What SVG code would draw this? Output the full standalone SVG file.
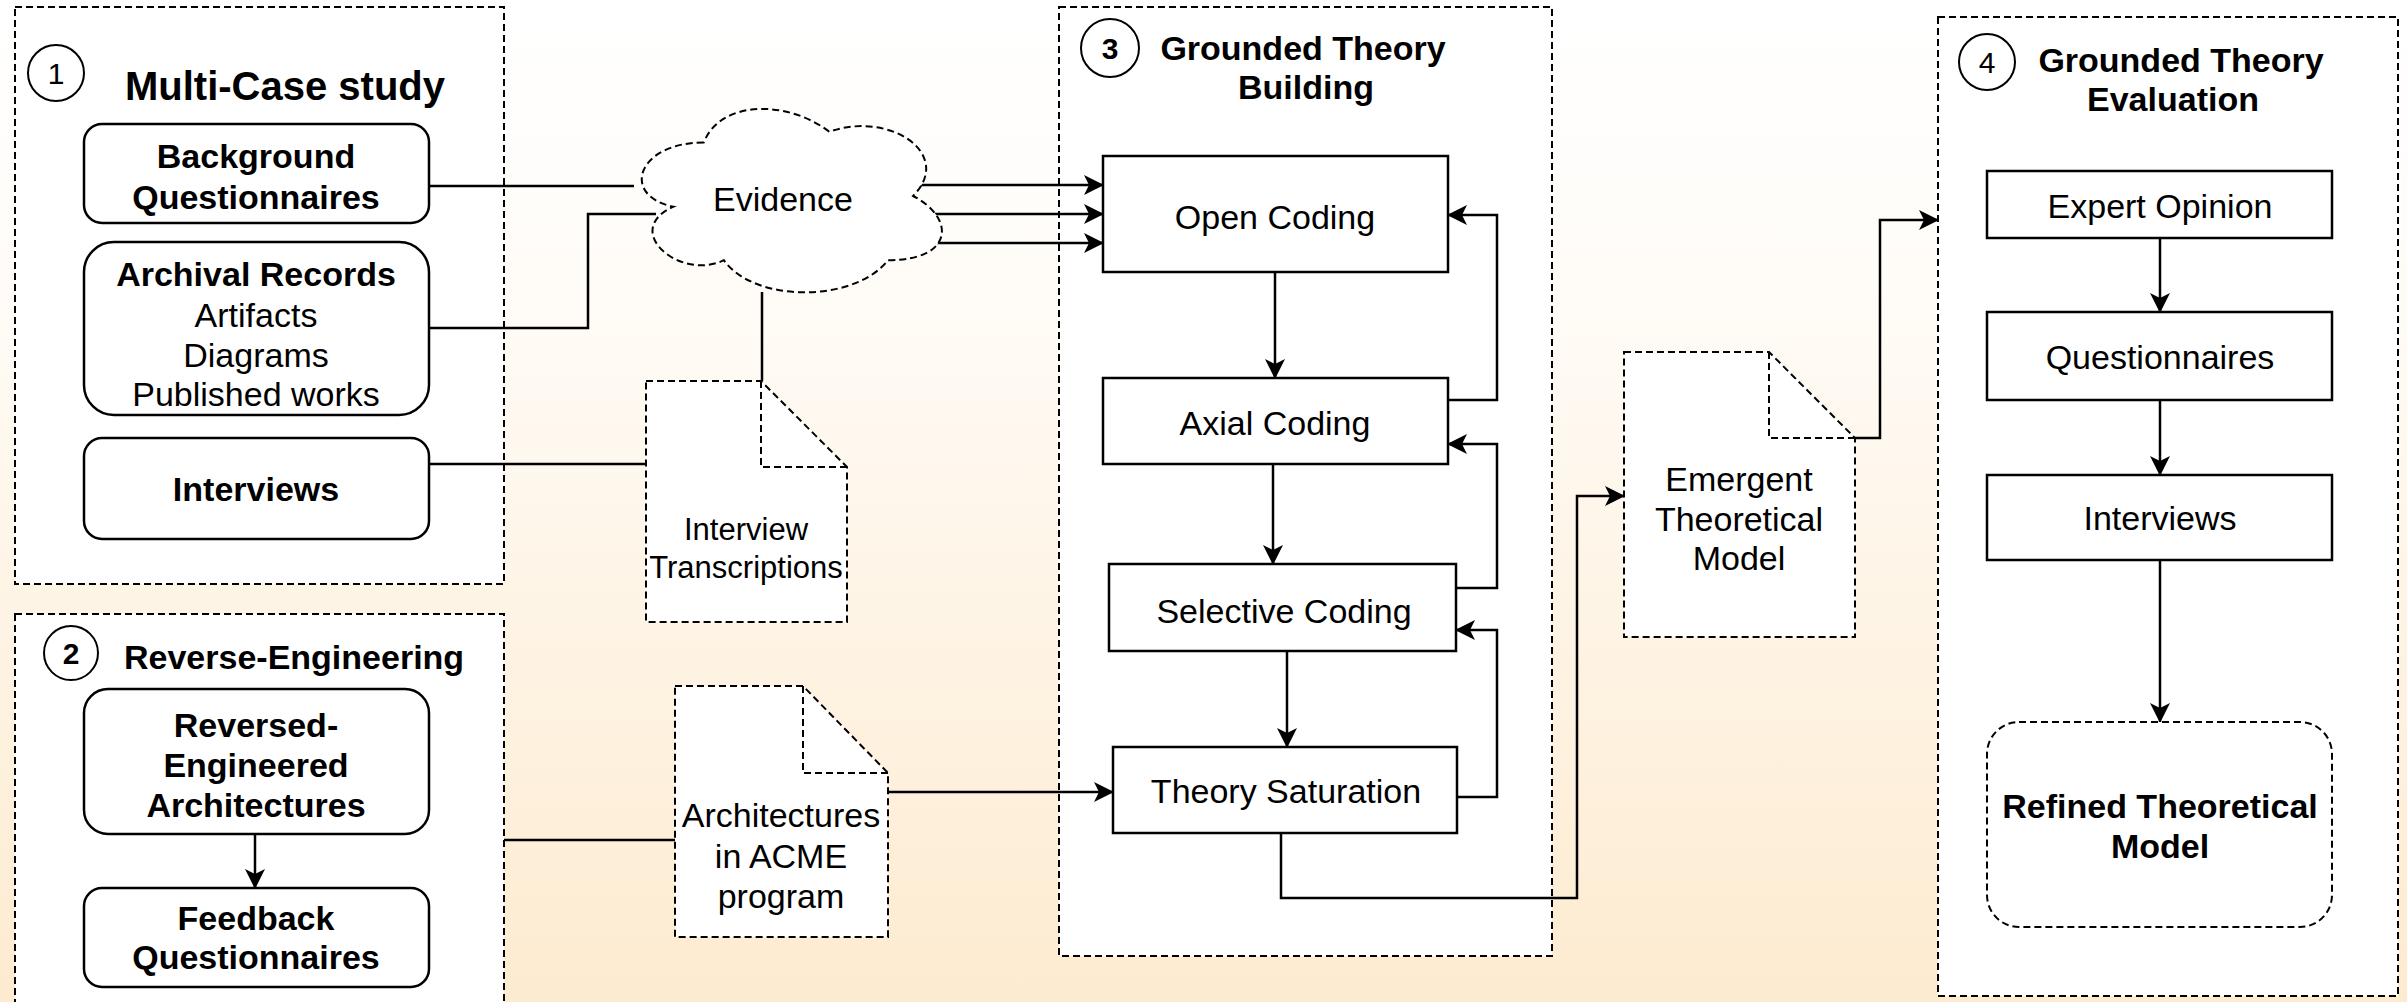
<svg xmlns="http://www.w3.org/2000/svg" width="2407" height="1002" viewBox="0 0 2407 1002">
<defs>
<linearGradient id="bg" x1="0" y1="0" x2="0" y2="1">
<stop offset="0" stop-color="#ffffff"/>
<stop offset="0.27" stop-color="#fffcf8"/>
<stop offset="1" stop-color="#fdebd0"/>
</linearGradient>
<marker id="arr" markerUnits="userSpaceOnUse" viewBox="0 0 20 20" refX="19" refY="10" markerWidth="20" markerHeight="20" orient="auto">
<path d="M0,0 L20,10 L0,20 L5,10 Z" fill="#000"/>
</marker>
<style>
.grp{fill:#fff;stroke:#000;stroke-width:2;stroke-dasharray:7 4}
.box{fill:#fff;stroke:#000;stroke-width:2.5}
.dash{fill:#fff;stroke:#000;stroke-width:2;stroke-dasharray:7 4}
.fold{fill:none;stroke:#000;stroke-width:2;stroke-dasharray:7 4}
.circ{fill:#fff;stroke:#000;stroke-width:2}
.ln{fill:none;stroke:#000;stroke-width:2.5}
.ar{fill:none;stroke:#000;stroke-width:2.5;marker-end:url(#arr)}
text{font-family:"Liberation Sans",Arial,Helvetica,sans-serif;fill:#000}
.t{font-size:34px;text-anchor:middle}
.b{font-size:34px;font-weight:bold;text-anchor:middle}
.s{font-size:31px;text-anchor:middle}
.num{font-size:30px;text-anchor:middle}
</style>
</defs>
<rect x="0" y="0" width="2407" height="1002" fill="url(#bg)"/>

<g id="group1">
<rect class="grp" x="15" y="7" width="489" height="577"/>
<circle class="circ" cx="56" cy="73" r="28"/>
<text class="num" x="56" y="84">1</text>
<text x="125" y="100" style="font-size:40px;font-weight:bold">Multi-Case study</text>
</g>
<g id="group2">
<rect class="grp" x="15" y="614" width="489" height="400"/>
<circle class="circ" cx="71" cy="653" r="27"/>
<text class="num" x="71" y="664" style="font-weight:bold">2</text>
<text x="124" y="669" style="font-size:34px;font-weight:bold">Reverse-Engineering</text>
</g>
<g id="group3">
<rect class="grp" x="1059" y="7" width="493" height="949"/>
<circle class="circ" cx="1110" cy="48" r="29"/>
<text class="num" x="1110" y="59" style="font-weight:bold">3</text>
<text class="b" x="1303" y="60">Grounded Theory</text>
<text class="b" x="1306" y="99">Building</text>
</g>
<g id="group4">
<rect class="grp" x="1938" y="17" width="460" height="979"/>
<circle class="circ" cx="1987" cy="62" r="28"/>
<text class="num" x="1987" y="73">4</text>
<text class="b" x="2181" y="72">Grounded Theory</text>
<text class="b" x="2173" y="111">Evaluation</text>
</g>

<g id="connectors">
<path class="ln" d="M429,186 L634,186"/>
<path class="ln" d="M429,328 L588,328 L588,214 L656,214"/>
<path class="ln" d="M429,464 L646,464"/>
<path class="ln" d="M762,292 L762,381"/>
<path class="ar" d="M917,185 L1103,185"/>
<path class="ar" d="M930,214 L1103,214"/>
<path class="ar" d="M937,243 L1103,243"/>
<path class="ln" d="M504,840 L675,840"/>
<path class="ar" d="M888,792 L1113,792"/>
<path class="ar" d="M1275,272 L1275,378"/>
<path class="ar" d="M1273,464 L1273,564"/>
<path class="ar" d="M1287,651 L1287,747"/>
<path class="ar" d="M1448,400 L1497,400 L1497,215 L1448,215"/>
<path class="ar" d="M1456,588 L1497,588 L1497,444 L1448,444"/>
<path class="ar" d="M1457,797 L1497,797 L1497,630 L1456,630"/>
<path class="ar" d="M1281,833 L1281,898 L1577,898 L1577,496 L1624,496"/>
<path class="ar" d="M1855,438 L1880,438 L1880,220 L1938,220"/>
<path class="ar" d="M2160,238 L2160,312"/>
<path class="ar" d="M2160,400 L2160,475"/>
<path class="ar" d="M2160,560 L2160,722"/>
<path class="ar" d="M255,834 L255,888"/>
</g>

<g id="background-questionnaires">
<rect class="box" x="84" y="124" width="345" height="99" rx="18"/>
<text class="b" x="256" y="168">Background</text>
<text class="b" x="256" y="209">Questionnaires</text>
</g>
<g id="archival-records">
<rect class="box" x="84" y="242" width="345" height="173" rx="30"/>
<text class="b" x="256" y="286">Archival Records</text>
<text class="t" x="256" y="327">Artifacts</text>
<text class="t" x="256" y="367">Diagrams</text>
<text class="t" x="256" y="406">Published works</text>
</g>
<g id="interviews-1">
<rect class="box" x="84" y="438" width="345" height="101" rx="18"/>
<text class="b" x="256" y="501">Interviews</text>
</g>
<g id="reversed-engineered">
<rect class="box" x="84" y="689" width="345" height="145" rx="24"/>
<text class="b" x="256" y="737">Reversed-</text>
<text class="b" x="256" y="777">Engineered</text>
<text class="b" x="256" y="817">Architectures</text>
</g>
<g id="feedback-questionnaires">
<rect class="box" x="84" y="888" width="345" height="99" rx="18"/>
<text class="b" x="256" y="930">Feedback</text>
<text class="b" x="256" y="969">Questionnaires</text>
</g>

<g id="evidence">
<path class="dash" transform="translate(620,89)" d="M83.75,53.5 C16.75,53.5 0,107 53.6,117.7 C0,141.2 60.3,192.6 103.85,171.2 C134,214 234.5,214 268,171.2 C335,171.2 335,128.4 293.1,107 C335,64.2 268,21.4 209.4,42.8 C167.5,10.7 100.5,10.7 83.75,53.5 Z"/>
<text class="t" x="783" y="211">Evidence</text>
</g>
<g id="interview-transcriptions">
<path class="dash" d="M646,381 L761,381 L847,467 L847,622 L646,622 Z"/>
<path class="fold" d="M761,381 L761,467 L847,467"/>
<text class="s" x="746" y="540">Interview</text>
<text class="s" x="746" y="578">Transcriptions</text>
</g>
<g id="architectures-acme">
<path class="dash" d="M675,686 L803,686 L888,773 L888,937 L675,937 Z"/>
<path class="fold" d="M803,686 L803,773 L888,773"/>
<text class="t" x="781" y="827">Architectures</text>
<text class="t" x="781" y="868">in ACME</text>
<text class="t" x="781" y="908">program</text>
</g>

<g id="open-coding">
<rect class="box" x="1103" y="156" width="345" height="116"/>
<text class="t" x="1275" y="229">Open Coding</text>
</g>
<g id="axial-coding">
<rect class="box" x="1103" y="378" width="345" height="86"/>
<text class="t" x="1275" y="435">Axial Coding</text>
</g>
<g id="selective-coding">
<rect class="box" x="1109" y="564" width="347" height="87"/>
<text class="t" x="1284" y="623">Selective Coding</text>
</g>
<g id="theory-saturation">
<rect class="box" x="1113" y="747" width="344" height="86"/>
<text class="t" x="1286" y="803">Theory Saturation</text>
</g>

<g id="emergent-model">
<path class="dash" d="M1624,352 L1769,352 L1855,438 L1855,637 L1624,637 Z"/>
<path class="fold" d="M1769,352 L1769,438 L1855,438"/>
<text class="t" x="1739" y="491">Emergent</text>
<text class="t" x="1739" y="531">Theoretical</text>
<text class="t" x="1739" y="570">Model</text>
</g>

<g id="expert-opinion">
<rect class="box" x="1987" y="171" width="345" height="67"/>
<text class="t" x="2160" y="218">Expert Opinion</text>
</g>
<g id="questionnaires">
<rect class="box" x="1987" y="312" width="345" height="88"/>
<text class="t" x="2160" y="369">Questionnaires</text>
</g>
<g id="interviews-4">
<rect class="box" x="1987" y="475" width="345" height="85"/>
<text class="t" x="2160" y="530">Interviews</text>
</g>
<g id="refined-model">
<rect class="dash" x="1987" y="722" width="345" height="205" rx="32"/>
<text class="b" x="2160" y="818">Refined Theoretical</text>
<text class="b" x="2160" y="858">Model</text>
</g>
</svg>
